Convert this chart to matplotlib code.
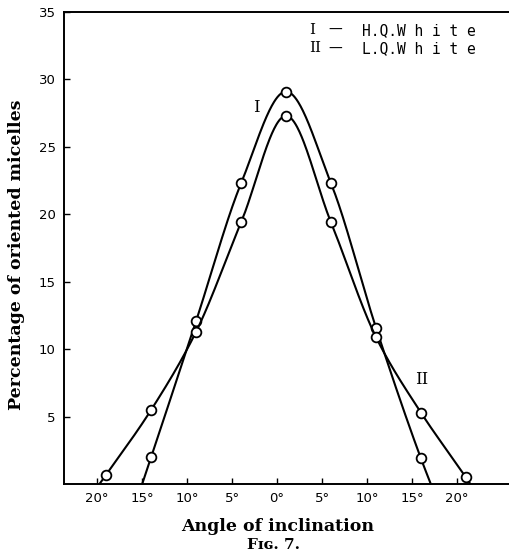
import numpy as np
import matplotlib.pyplot as plt

# Curve I - H.Q. White (measured points)
angle_I = [-14, -9, -4, 1, 6, 11, 16]
pct_I = [2.0, 12.1, 22.3, 29.1, 22.3, 11.6, 1.9]
zero_I = [-15.0, 17.1]          # where the drawn curve meets the axis

# Curve II - L.Q. White
angle_II = [-19, -14, -9, -4, 1, 6, 11, 16, 21]
pct_II = [0.7, 5.5, 11.3, 19.4, 27.3, 19.4, 10.9, 5.3, 0.5]
zero_II = [-19.75, 21.5]

xticks = [-20, -15, -10, -5, 0, 5, 10, 15, 20]
xtick_labels = ['20°', '15°', '10°', '5°', '0°', '5°', '10°', '15°', '20°']
yticks = [5, 10, 15, 20, 25, 30, 35]


def smooth(x, y, n=500):
    # shape preserving cubic (pchip) through the points
    x = np.asarray(x, float); y = np.asarray(y, float)
    h = np.diff(x); d = np.diff(y) / h
    m = np.zeros_like(y)
    for i in range(1, len(x) - 1):
        if d[i - 1] * d[i] > 0:
            w1 = 2 * h[i] + h[i - 1]; w2 = h[i] + 2 * h[i - 1]
            m[i] = (w1 + w2) / (w1 / d[i - 1] + w2 / d[i])
    m[0] = d[0]; m[-1] = d[-1]
    xs = np.linspace(x[0], x[-1], n)
    j = np.clip(np.searchsorted(x, xs) - 1, 0, len(x) - 2)
    t = (xs - x[j]) / h[j]
    h00 = 2 * t**3 - 3 * t**2 + 1; h10 = t**3 - 2 * t**2 + t
    h01 = -2 * t**3 + 3 * t**2; h11 = t**3 - t**2
    ys = h00 * y[j] + h10 * h[j] * m[j] + h01 * y[j + 1] + h11 * h[j] * m[j + 1]
    return xs, ys


fig = plt.figure(figsize=(5.09, 5.56), dpi=100)
ax = fig.add_axes([0.1257, 0.1295, 0.8743, 0.8489])

for ang, pct, z in [(angle_I, pct_I, zero_I), (angle_II, pct_II, zero_II)]:
    xs, ys = smooth([z[0]] + ang + [z[1]], [0] + pct + [0])
    ax.plot(xs, ys, color='black', lw=1.5, solid_capstyle='butt')
    ax.plot(ang, pct, 'o', ms=7, mfc='white', mec='black', mew=1.3)

ax.set_xlim(-23.7, 25.8)
ax.set_ylim(0, 35)
ax.set_xticks(xticks)
ax.set_xticklabels(xtick_labels)
ax.set_yticks(yticks)
ax.tick_params(direction='in', length=4, width=1, labelsize=9.5, pad=6)
ax.spines['right'].set_visible(False)
for s in ['left', 'bottom', 'top']:
    ax.spines[s].set_linewidth(1.4)

ax.set_ylabel('Percentage of oriented micelles', family='DejaVu Serif',
              fontweight='bold', fontsize=12.5, labelpad=10, y=0.485)
ax.set_xlabel('Angle of inclination', family='DejaVu Serif',
              fontweight='bold', fontsize=12.5, labelpad=9, x=0.481)
fig.text(0.537, 0.012, 'Fɪɢ. 7.', family=['DejaVu Serif', 'DejaVu Sans'],
         fontweight='bold', fontsize=11, ha='center')

# key in the upper right
for yk, num, name in [(33.65, 'I', 'H.Q.W h i t e'), (32.3, 'II', 'L.Q.W h i t e')]:
    ax.text(3.6, yk, num, family='DejaVu Serif', fontsize=11, va='center')
    ax.text(5.7, yk, '—', family='DejaVu Sans', fontsize=10, va='center')
    ax.text(9.4, yk, name, family='DejaVu Sans Mono', fontsize=10.5, va='center')

ax.text(-2.7, 27.6, 'I', family='DejaVu Serif', fontsize=12)
ax.text(15.3, 7.4, 'II', family='DejaVu Serif', fontsize=12)

fig.savefig('out.png', dpi=100)
